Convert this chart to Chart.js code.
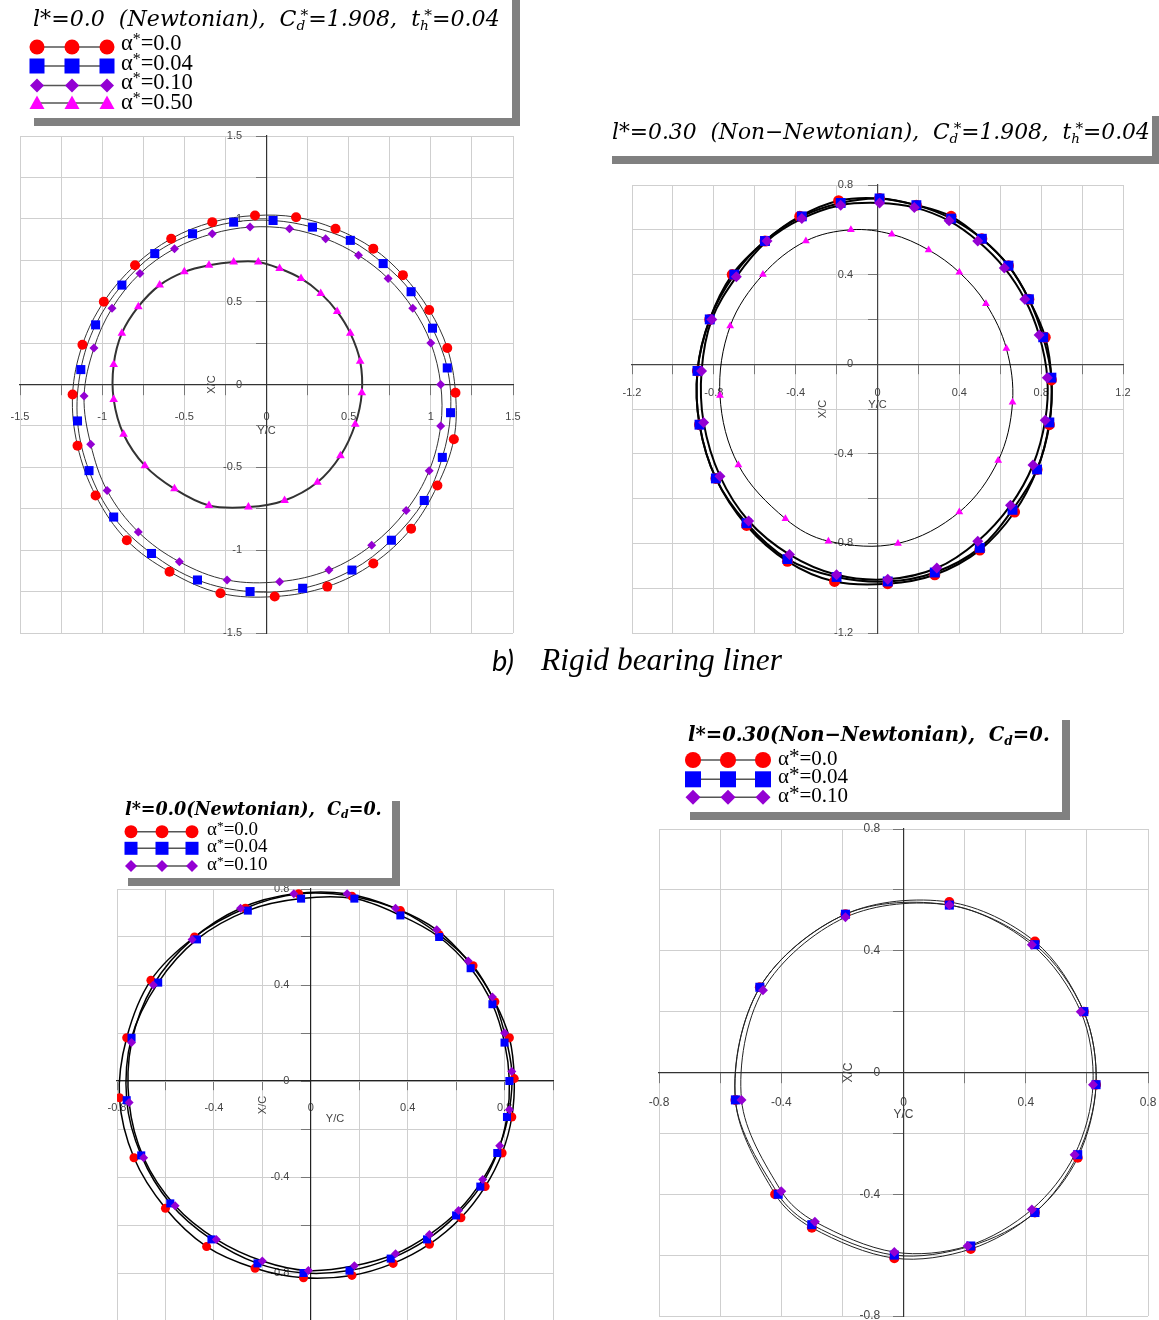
<!DOCTYPE html>
<html>
<head>
<meta charset="utf-8">
<title>Journal centre loci</title>
<script src="https://cdn.jsdelivr.net/npm/chart.js@4.4.1/dist/chart.umd.min.js"></script>
<style>
  html, body { margin: 0; padding: 0; background: #fff; overflow: hidden; }
  #page { position: relative; width: 1159px; height: 1320px; overflow: hidden; background: #fff; }
  canvas.plot { position: absolute; }
  .box { position: absolute; background: #fff; box-shadow: 8px 8px 0 #808080; }
  .txt { position: absolute; white-space: nowrap; line-height: 1; color: #000; }
  .ttl { font-family: "DejaVu Serif", serif; font-style: italic; }
  .bold { font-weight: bold; }
  .lab { font-family: "Liberation Serif", "Times New Roman", serif; }
  .cap { font-family: "Liberation Serif", serif; font-style: italic; }
  .capb { font-family: Lato, "Open Sans", sans-serif; font-style: italic; }
  .txt sub { font-size: 0.62em; vertical-align: -0.32em; line-height: 0; }
  .txt sup { font-size: 0.7em; vertical-align: 0.38em; line-height: 0; }
  .txt sup.st { margin-left: -0.3em; }
  .txt sup.big { font-size: 1em; vertical-align: 0.08em; }
  #marks { position: absolute; left: 0; top: 0; }
</style>
</head>
<body>
<div id="page">
  <canvas id="chartA" class="plot"></canvas>
  <canvas id="chartB" class="plot"></canvas>
  <canvas id="chartC" class="plot"></canvas>
  <canvas id="chartD" class="plot"></canvas>
  <div class="box" style="left:26px;top:-8px;width:486px;height:126px"></div>
  <div class="box" style="left:604px;top:108px;width:548px;height:48px"></div>
  <div class="box" style="left:120px;top:793px;width:272px;height:85px"></div>
  <div class="box" style="left:682px;top:712px;width:380px;height:100px"></div>
  <svg id="marks" width="1159" height="1320"></svg>
</div>
<script>
// journal centre positions (Y/C, X/C)

// b) rigid liner, l*=0.0, Cd*=1.908
const rigidN_a000 = [[-0.07,1.02],[0.18,1.01],[0.42,0.94],[0.65,0.82],[0.83,0.66],[0.99,0.45],[1.10,0.22],[1.15,-0.05],[1.14,-0.33],[1.04,-0.61],[0.88,-0.87],[0.65,-1.08],[0.37,-1.22],[0.05,-1.28],[-0.28,-1.26],[-0.59,-1.13],[-0.85,-0.94],[-1.04,-0.67],[-1.15,-0.37],[-1.18,-0.06],[-1.12,0.24],[-0.99,0.50],[-0.80,0.72],[-0.58,0.88],[-0.33,0.98]];
const rigidN_a004 = [[0.04,0.99],[0.28,0.95],[0.51,0.87],[0.71,0.73],[0.88,0.56],[1.01,0.34],[1.10,0.10],[1.12,-0.17],[1.07,-0.44],[0.96,-0.70],[0.76,-0.94],[0.52,-1.12],[0.22,-1.23],[-0.10,-1.25],[-0.42,-1.18],[-0.70,-1.02],[-0.93,-0.80],[-1.08,-0.52],[-1.15,-0.22],[-1.13,0.09],[-1.04,0.36],[-0.88,0.60],[-0.68,0.79],[-0.45,0.91],[-0.20,0.98]];
const rigidN_a010 = [[-0.10,0.95],[0.14,0.94],[0.36,0.88],[0.56,0.78],[0.74,0.64],[0.89,0.46],[1.00,0.25],[1.06,0.00],[1.06,-0.25],[0.99,-0.52],[0.85,-0.76],[0.64,-0.97],[0.38,-1.12],[0.08,-1.19],[-0.24,-1.18],[-0.53,-1.07],[-0.78,-0.89],[-0.97,-0.64],[-1.07,-0.36],[-1.11,-0.07],[-1.05,0.22],[-0.94,0.46],[-0.77,0.67],[-0.56,0.82],[-0.33,0.91]];
const rigidN_a050 = [[-0.05,0.74],[0.08,0.70],[0.21,0.64],[0.33,0.55],[0.43,0.44],[0.51,0.31],[0.57,0.14],[0.58,-0.05],[0.54,-0.24],[0.45,-0.43],[0.31,-0.59],[0.11,-0.70],[-0.11,-0.74],[-0.35,-0.73],[-0.56,-0.63],[-0.74,-0.49],[-0.87,-0.30],[-0.93,-0.09],[-0.93,0.12],[-0.88,0.31],[-0.78,0.47],[-0.65,0.60],[-0.50,0.68],[-0.35,0.72],[-0.20,0.74]];

// b) rigid liner, l*=0.30, Cd*=1.908
const rigidNN_a000 = [[0.01,0.74],[0.19,0.71],[0.36,0.66],[0.51,0.56],[0.64,0.44],[0.74,0.29],[0.82,0.12],[0.85,-0.07],[0.84,-0.27],[0.78,-0.47],[0.67,-0.66],[0.50,-0.83],[0.28,-0.94],[0.05,-0.98],[-0.21,-0.97],[-0.44,-0.88],[-0.64,-0.72],[-0.79,-0.51],[-0.87,-0.27],[-0.88,-0.03],[-0.82,0.20],[-0.71,0.40],[-0.55,0.55],[-0.38,0.66],[-0.19,0.73]];
const rigidNN_a004 = [[0.01,0.74],[0.19,0.71],[0.36,0.65],[0.51,0.56],[0.64,0.44],[0.74,0.29],[0.81,0.12],[0.85,-0.06],[0.84,-0.26],[0.78,-0.47],[0.66,-0.65],[0.50,-0.82],[0.28,-0.93],[0.05,-0.97],[-0.20,-0.95],[-0.44,-0.87],[-0.64,-0.71],[-0.79,-0.51],[-0.87,-0.27],[-0.88,-0.03],[-0.82,0.20],[-0.70,0.40],[-0.55,0.55],[-0.37,0.66],[-0.18,0.72]];
const rigidNN_a010 = [[0.01,0.72],[0.18,0.70],[0.35,0.64],[0.49,0.55],[0.62,0.43],[0.72,0.29],[0.79,0.13],[0.83,-0.06],[0.82,-0.25],[0.76,-0.45],[0.65,-0.63],[0.49,-0.79],[0.29,-0.91],[0.05,-0.96],[-0.20,-0.94],[-0.43,-0.85],[-0.63,-0.70],[-0.77,-0.50],[-0.85,-0.26],[-0.86,-0.03],[-0.81,0.20],[-0.69,0.39],[-0.54,0.55],[-0.37,0.65],[-0.18,0.71]];
const rigidNN_a050 = [[-0.13,0.60],[0.07,0.58],[0.25,0.51],[0.40,0.41],[0.53,0.27],[0.63,0.07],[0.66,-0.17],[0.59,-0.43],[0.40,-0.66],[0.10,-0.80],[-0.24,-0.79],[-0.45,-0.69],[-0.68,-0.45],[-0.77,-0.14],[-0.72,0.17],[-0.56,0.40],[-0.35,0.55]];

// Cd=0, l*=0.0
const zeroN_a000 = [[-0.05,0.78],[0.17,0.77],[0.37,0.71],[0.53,0.61],[0.67,0.48],[0.76,0.33],[0.82,0.18],[0.84,0.01],[0.83,-0.15],[0.79,-0.30],[0.72,-0.44],[0.62,-0.57],[0.49,-0.68],[0.34,-0.76],[0.17,-0.81],[-0.03,-0.82],[-0.23,-0.78],[-0.43,-0.69],[-0.60,-0.53],[-0.73,-0.32],[-0.79,-0.07],[-0.76,0.18],[-0.66,0.42],[-0.48,0.60],[-0.27,0.72]];
const zeroN_a004 = [[-0.04,0.76],[0.18,0.76],[0.37,0.69],[0.53,0.60],[0.66,0.47],[0.75,0.32],[0.80,0.16],[0.82,0.00],[0.81,-0.15],[0.77,-0.30],[0.70,-0.44],[0.60,-0.56],[0.48,-0.66],[0.33,-0.74],[0.16,-0.79],[-0.03,-0.80],[-0.22,-0.76],[-0.41,-0.66],[-0.58,-0.51],[-0.70,-0.31],[-0.76,-0.08],[-0.74,0.18],[-0.63,0.41],[-0.47,0.59],[-0.26,0.71]];
const zeroN_a010 = [[-0.07,0.78],[0.15,0.78],[0.35,0.72],[0.52,0.63],[0.65,0.50],[0.75,0.35],[0.80,0.20],[0.83,0.04],[0.82,-0.12],[0.78,-0.27],[0.71,-0.41],[0.61,-0.54],[0.49,-0.64],[0.35,-0.72],[0.18,-0.77],[-0.01,-0.79],[-0.20,-0.75],[-0.39,-0.66],[-0.56,-0.52],[-0.69,-0.32],[-0.75,-0.09],[-0.74,0.16],[-0.65,0.40],[-0.49,0.59],[-0.29,0.72]];

// Cd=0, l*=0.30
const zeroNN_a000 = [[0.15,0.56],[0.43,0.43],[0.59,0.20],[0.63,-0.04],[0.57,-0.28],[0.43,-0.46],[0.22,-0.58],[-0.03,-0.61],[-0.30,-0.51],[-0.42,-0.40],[-0.55,-0.09],[-0.47,0.28],[-0.19,0.52]];
const zeroNN_a004 = [[0.15,0.55],[0.43,0.42],[0.59,0.20],[0.63,-0.04],[0.57,-0.27],[0.43,-0.46],[0.22,-0.57],[-0.03,-0.60],[-0.30,-0.50],[-0.41,-0.40],[-0.55,-0.09],[-0.47,0.28],[-0.19,0.52]];
const zeroNN_a010 = [[0.15,0.55],[0.42,0.42],[0.58,0.20],[0.62,-0.04],[0.56,-0.27],[0.42,-0.45],[0.21,-0.57],[-0.03,-0.59],[-0.29,-0.49],[-0.40,-0.39],[-0.53,-0.09],[-0.46,0.27],[-0.19,0.51]];

// tick labels and legend values
const ticksA = [-1.5, -1, -0.5, 0, 0.5, 1, 1.5];
const ticksB = [-1.2, -0.8, -0.4, 0, 0.4, 0.8, 1.2];
const ticksCD = [-0.8, -0.4, 0, 0.4, 0.8];
const alphaTop = ['0.0', '0.04', '0.10', '0.50'];
const alphaBottom = ['0.0', '0.04', '0.10'];
const xTitle = 'Y/C', yTitle = 'X/C';

const RED = '#ff0000', BLUE = '#0000ff', PURPLE = '#9400d3', MAGENTA = '#ff00ff';
const page = document.getElementById('page');
const M = 40, EX = 80;

const panels = [
  { canvas: 'chartA', area: {left: 20, top: 136, right: 513, bottom: 633},
    x: [-1.5, 1.5], y: [-1.5, 1.5], step: 0.25, labels: ticksA,
    font: 11, tickLen: 10, padX: 16, gapY: 8, titleDx: 55, titleDy: 46.5,
    axisColor: '#333', lineColor: '#333', lineWidth: 1, tension: 0.35,
    series: [
      {data: rigidN_a000, style: 'circle', color: RED, r: 5},
      {data: rigidN_a004, style: 'rect', color: BLUE, r: 6.4},
      {data: rigidN_a010, style: 'rectRot', color: PURPLE, r: 4.5},
      {data: rigidN_a050, style: 'triangle', color: MAGENTA, r: 5, lineWidth: 2}
    ]},
  { canvas: 'chartB', area: {left: 632, top: 185, right: 1123, bottom: 633},
    x: [-1.2, 1.2], y: [-1.2, 0.8], step: 0.2, labels: ticksB,
    font: 11, tickLen: 9, padX: 13, gapY: 8, titleDx: 54.5, titleDy: 41,
    axisColor: '#444', lineColor: '#000', lineWidth: 2, tension: 0.35,
    series: [
      {data: rigidNN_a000, style: 'circle', color: RED, r: 5.5},
      {data: rigidNN_a004, style: 'rect', color: BLUE, r: 7},
      {data: rigidNN_a010, style: 'rectRot', color: PURPLE, r: 5.5},
      {data: rigidNN_a050, style: 'triangle', color: MAGENTA, r: 4.5, lineWidth: 1}
    ]},
  { canvas: 'chartC', area: {left: 117, top: 889, right: 553, bottom: 1321},
    x: [-0.8, 1.0], y: [-1.0, 0.8], step: 0.2, labels: ticksCD,
    font: 11, tickLen: 9, padX: 11, gapY: 7, titleDx: 48, titleDy: 38,
    axisColor: '#222', lineColor: '#000', lineWidth: 1.5, tension: 0.35,
    series: [
      {data: zeroN_a000, style: 'circle', color: RED, r: 4.5},
      {data: zeroN_a004, style: 'rect', color: BLUE, r: 5.7},
      {data: zeroN_a010, style: 'rectRot', color: PURPLE, r: 4.5}
    ]},
  { canvas: 'chartD', area: {left: 659, top: 829, right: 1148, bottom: 1316},
    x: [-0.8, 0.8], y: [-0.8, 0.8], step: 0.2, labels: ticksCD,
    font: 12, tickLen: 10, padX: 13, gapY: 7, titleDx: 55, titleDy: 42.5,
    axisColor: '#333', lineColor: '#222', lineWidth: 1, tension: 0.33,
    series: [
      {data: zeroNN_a000, style: 'circle', color: RED, r: 5},
      {data: zeroNN_a004, style: 'rect', color: BLUE, r: 6.4},
      {data: zeroNN_a010, style: 'rectRot', color: PURPLE, r: 5}
    ]}
];

const toXY = pts => pts.map(p => ({x: p[0], y: p[1]}));

// Y/C and X/C sit beside the centred axes, X/C reads bottom-to-top
const axisTitles = {
  id: 'axisTitles',
  beforeDatasetsDraw(chart, args, o) {
    const {ctx, scales: {x, y}} = chart;
    const x0 = x.getPixelForValue(0), y0 = y.getPixelForValue(0);
    ctx.save();
    ctx.fillStyle = '#444';
    ctx.font = o.size + 'px "Liberation Sans"';
    ctx.textAlign = 'center';
    ctx.textBaseline = 'middle';
    ctx.fillText(xTitle, (x.left + x.right) / 2, y0 + o.dy);
    ctx.translate(x0 - o.dx, (y.top + y.bottom) / 2);
    ctx.rotate(-Math.PI / 2);
    ctx.fillText(yTitle, 0, 0);
    ctx.restore();
  }
};

function axisOptions(p, which) {
  const lim = p[which];
  const isX = which === 'x';
  // centred y labels are right-aligned on the axis line; trailing blanks move them clear of the ticks
  const tail = isX ? '' : ' '.repeat(p.gapY);
  return {
    type: 'linear', min: lim[0], max: lim[1],
    position: isX ? {y: 0} : {x: 0},
    grid: {color: '#cfcfcf', lineWidth: 1, tickColor: '#777', tickLength: p.tickLen},
    border: {display: true, color: p.axisColor, width: 1.2},
    ticks: {
      stepSize: p.step, autoSkip: false, maxRotation: 0,
      padding: isX ? p.padX : 0,
      color: '#444', font: {family: 'Liberation Sans', size: p.font},
      callback: v => {
        const hit = p.labels.find(t => Math.abs(t - v) < 1e-6);
        return hit === undefined ? '' : String(hit) + tail;
      }
    },
    title: {display: false}
  };
}

function makePanel(p) {
  const cv = document.getElementById(p.canvas);
  const w = p.area.right - p.area.left, h = p.area.bottom - p.area.top;
  cv.width = w + 2 * M + EX;
  cv.height = h + 2 * M + EX;
  cv.style.left = (p.area.left - M) + 'px';
  cv.style.top = (p.area.top - M) + 'px';

  const datasets = [];
  const n = p.series.length;
  p.series.forEach((s, i) => {
    // closed smooth curve: wrap one point at each end and hide the two wrap segments
    const pts = s.data;
    const ring = [pts[pts.length - 1]].concat(pts, [pts[0], pts[1]]);
    const last = ring.length - 1;
    datasets.push({
      data: toXY(ring), showLine: true, pointRadius: 0,
      borderColor: p.lineColor, borderWidth: s.lineWidth || p.lineWidth,
      tension: p.tension, fill: false, order: 20 + i,
      segment: {
        borderColor: c => (c.p0DataIndex === 0 || c.p1DataIndex === last) ? 'rgba(0,0,0,0)' : undefined
      }
    });
    // markers on top of all curves
    datasets.push({
      data: toXY(pts), showLine: false, pointStyle: s.style, pointRadius: s.r,
      backgroundColor: s.color, borderColor: s.color, borderWidth: 0, order: n - i
    });
  });

  const pad = {left: M, top: M, right: M + EX, bottom: M + EX};
  const chart = new Chart(cv, {
    type: 'scatter',
    data: {datasets},
    options: {
      responsive: false, animation: false, devicePixelRatio: 1, events: [],
      layout: {padding: Object.assign({}, pad)},
      plugins: {
        legend: {display: false}, tooltip: {enabled: false},
        axisTitles: {size: p.font, dx: p.titleDx, dy: p.titleDy}
      },
      scales: {x: axisOptions(p, 'x'), y: axisOptions(p, 'y')}
    },
    plugins: [axisTitles]
  });

  // centred axes take layout room; shift padding so the plot lands on the wanted box
  const want = {left: M, top: M, right: M + w, bottom: M + h};
  for (let k = 0; k < 2; k++) {
    const a = chart.chartArea;
    pad.left += want.left - a.left;
    pad.top += want.top - a.top;
    pad.right += a.right - want.right;
    pad.bottom += a.bottom - want.bottom;
    chart.options.layout.padding = Object.assign({}, pad);
    chart.update('none');
  }
  return chart;
}

panels.forEach(makePanel);

// ---- legends ----
const svgNS = 'http://www.w3.org/2000/svg';
const marks = document.getElementById('marks');
function svgEl(tag, attrs) {
  const e = document.createElementNS(svgNS, tag);
  for (const k in attrs) e.setAttribute(k, attrs[k]);
  marks.appendChild(e);
  return e;
}
function swatch(style, color, cx, cy, r) {
  if (style === 'circle') svgEl('circle', {cx, cy, r, fill: color});
  else if (style === 'rect') svgEl('rect', {x: cx - r, y: cy - r, width: 2 * r, height: 2 * r, fill: color});
  else if (style === 'rectRot') svgEl('polygon', {points: `${cx},${cy - r} ${cx + r},${cy} ${cx},${cy + r} ${cx - r},${cy}`, fill: color});
  else svgEl('polygon', {points: `${cx},${cy - r} ${cx + r},${cy + r * 0.8} ${cx - r},${cy + r * 0.8}`, fill: color});
}

function placeText(t) {
  const el = document.createElement('div');
  el.className = 'txt ' + t.cls;
  el.style.fontSize = t.size + 'px';
  el.innerHTML = t.html + '<span class="bl" style="display:inline-block;width:0;height:0"></span>';
  page.appendChild(el);
  if (t.width) {
    const w0 = el.getBoundingClientRect().width;
    el.style.fontSize = (t.size * t.width / w0) + 'px';
  }
  const bl = el.querySelector('.bl').offsetTop;
  el.style.left = t.x + 'px';
  el.style.top = (t.base - bl) + 'px';
}

const legends = [
  {panel: panels[0], values: alphaTop, xs: [37, 72, 107], rows: [47, 66, 85.5, 103], r: 7.5,
   textX: 121, bases: [50, 69.5, 88.5, 108.5], size: 22.5, star: ''},
  {panel: panels[2], values: alphaBottom, xs: [131, 162, 192], rows: [831.7, 848.3, 866], r: 6.5,
   textX: 207, bases: [835, 852.3, 870], size: 19, star: ''},
  {panel: panels[3], values: alphaBottom, xs: [693, 728, 763], rows: [760, 779.3, 797.3], r: 8,
   textX: 778, bases: [765, 783.3, 801.7], size: 21, star: ' class="big"'}
];

legends.forEach(L => {
  L.values.forEach((v, i) => {
    const s = L.panel.series[i];
    const y = L.rows[i];
    svgEl('line', {x1: L.xs[0], y1: y, x2: L.xs[2], y2: y, stroke: '#555', 'stroke-width': 1.5});
    const r = s.style === 'rectRot' ? L.r - 0.5 : L.r;
    L.xs.forEach(x => swatch(s.style, s.color, x, y, r));
    placeText({html: 'α<sup' + L.star + '>*</sup>=' + v, cls: 'lab', x: L.textX, base: L.bases[i], size: L.size});
  });
});

// ---- titles and caption ----
const texts = [
  {html: 'l*=0.0 &nbsp;(Newtonian), &nbsp;C<sub>d</sub><sup class="st">*</sup>=1.908, &nbsp;t<sub>h</sub><sup class="st">*</sup>=0.04',
   cls: 'ttl', x: 33, base: 25.5, size: 20, width: 467},
  {html: 'l*=0.30 &nbsp;(Non−Newtonian), &nbsp;C<sub>d</sub><sup class="st">*</sup>=1.908, &nbsp;t<sub>h</sub><sup class="st">*</sup>=0.04',
   cls: 'ttl', x: 612, base: 139, size: 20, width: 538},
  {html: 'l*=0.0(Newtonian), &nbsp;C<sub>d</sub>=0.', cls: 'ttl bold', x: 125, base: 815, size: 17, width: 257},
  {html: 'l*=0.30(Non−Newtonian), &nbsp;C<sub>d</sub>=0.', cls: 'ttl bold', x: 688, base: 741, size: 21, width: 362},
  {html: 'b)', cls: 'capb', x: 492, base: 671, size: 29},
  {html: 'Rigid bearing liner', cls: 'cap', x: 541, base: 670, size: 31, width: 241}
];
texts.forEach(placeText);
</script>
</body>
</html>
